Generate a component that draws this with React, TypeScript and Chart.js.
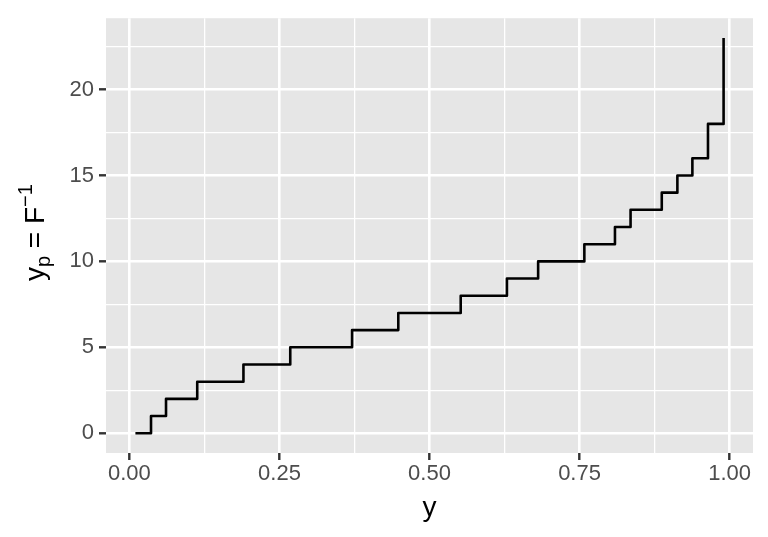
import React, { useEffect, useRef } from "react";
import { Chart, registerables } from "chart.js";

Chart.register(...registerables);

// Data (quantile step function)
const probValues = [0.01, 0.036, 0.061, 0.113, 0.19, 0.268, 0.371, 0.448, 0.552, 0.629, 0.681, 0.758, 0.809, 0.835, 0.887, 0.913, 0.938, 0.964, 0.99];
const quantileValues = [0, 1, 2, 3, 4, 5, 6, 7, 8, 9, 10, 11, 12, 13, 14, 15, 16, 18, 23];

const xMajorTicks = [0, 0.25, 0.5, 0.75, 1.0];
const xMinorTicks = [0.125, 0.375, 0.625, 0.875];
const yMajorTicks = [0, 5, 10, 15, 20];
const yMinorTicks = [2.5, 7.5, 12.5, 17.5, 22.5];

const xTitle = "y";
const FONT = "'Liberation Sans', Arial, Helvetica, sans-serif";

const isMajor = (v: number, majors: number[]) => majors.some((m) => Math.abs(m - v) < 1e-9);

const panelPlugin = {
  id: "panelBg",
  beforeDraw(chart: any) {
    const { ctx, chartArea } = chart;
    ctx.save();
    ctx.fillStyle = "#E6E6E6";
    ctx.fillRect(chartArea.left, chartArea.top, chartArea.right - chartArea.left, chartArea.bottom - chartArea.top);
    ctx.restore();
  },
  afterDraw(chart: any) {
    const { ctx, chartArea } = chart;
    ctx.save();
    ctx.fillStyle = "#000000";
    // x axis title
    ctx.font = `28px ${FONT}`;
    ctx.textAlign = "center";
    ctx.textBaseline = "alphabetic";
    ctx.fillText(xTitle, (chartArea.left + chartArea.right) / 2, 516);

    // y axis title: y_p = F^{-1}
    const main = `28px ${FONT}`;
    const small = `20px ${FONT}`;
    const pieces: { t: string; f: string; dy: number }[] = [
      { t: "y", f: main, dy: 0 },
      { t: "p", f: small, dy: 6 },
      { t: " = ", f: main, dy: 0 },
      { t: "F", f: main, dy: 0 },
      { t: "\u22121", f: small, dy: -12 },
    ];
    let total = 0;
    const widths = pieces.map((p) => {
      ctx.font = p.f;
      const w = ctx.measureText(p.t).width;
      total += w;
      return w;
    });
    const cy = (chartArea.top + chartArea.bottom) / 2 - 3;
    ctx.translate(43.5, cy);
    ctx.rotate(-Math.PI / 2);
    ctx.textAlign = "left";
    let x = -total / 2;
    pieces.forEach((p, i) => {
      ctx.font = p.f;
      ctx.fillText(p.t, x, p.dy);
      x += widths[i];
    });
    ctx.restore();
  },
};

export default function App() {
  const canvasRef = useRef<HTMLCanvasElement | null>(null);

  useEffect(() => {
    if (!canvasRef.current) return;
    const points = probValues.map((p, i) => ({ x: p, y: quantileValues[i] }));
    const chart = new Chart(canvasRef.current, {
      type: "line",
      data: {
        datasets: [
          {
            data: points,
            stepped: "before",
            borderColor: "#000000",
            borderWidth: 2.6,
            pointRadius: 0,
            fill: false,
            borderJoinStyle: "round",
            tension: 0,
          },
        ],
      },
      options: {
        animation: false,
        responsive: false,
        events: [],
        layout: { padding: { top: 14, right: 15, left: 0, bottom: 0 } },
        plugins: {
          legend: { display: false },
          tooltip: { enabled: false },
        },
        scales: {
          x: {
            type: "linear",
            min: -0.039,
            max: 1.039,
            border: { display: false },
            afterBuildTicks: (scale: any) => {
              scale.ticks = [...xMajorTicks, ...xMinorTicks].sort((a, b) => a - b).map((v) => ({ value: v }));
            },
            afterFit: (scale: any) => {
              scale.height = 84;
            },
            grid: {
              color: "#FFFFFF",
              lineWidth: (c: any) => (c.tick && isMajor(c.tick.value, xMajorTicks) ? 2.6 : 1.3),
              drawTicks: true,
              tickLength: 7,
              tickWidth: 2.4,
              tickColor: (c: any) => (c.tick && isMajor(c.tick.value, xMajorTicks) ? "#333333" : "rgba(0,0,0,0)"),
            },
            ticks: {
              autoSkip: false,
              maxRotation: 0,
              padding: 1,
              color: "#4D4D4D",
              font: { family: FONT, size: 22 },
              callback: (v: any) => (isMajor(Number(v), xMajorTicks) ? Number(v).toFixed(2) : ""),
            },
          },
          y: {
            type: "linear",
            min: -1.15,
            max: 24.15,
            border: { display: false },
            afterBuildTicks: (scale: any) => {
              scale.ticks = [...yMajorTicks, ...yMinorTicks].sort((a, b) => a - b).map((v) => ({ value: v }));
            },
            afterFit: (scale: any) => {
              scale.width = 106;
            },
            grid: {
              color: "#FFFFFF",
              lineWidth: (c: any) => (c.tick && isMajor(c.tick.value, yMajorTicks) ? 2.6 : 1.3),
              drawTicks: true,
              tickLength: 7,
              tickWidth: 2.4,
              tickColor: (c: any) => (c.tick && isMajor(c.tick.value, yMajorTicks) ? "#333333" : "rgba(0,0,0,0)"),
            },
            ticks: {
              autoSkip: false,
              padding: 5,
              color: "#4D4D4D",
              font: { family: FONT, size: 22 },
              callback: (v: any) => (isMajor(Number(v), yMajorTicks) ? String(Number(v)) : ""),
            },
          },
        },
      },
      plugins: [panelPlugin],
    } as any);
    return () => chart.destroy();
  }, []);

  return (
    <div style={{ position: "absolute", left: 0, top: 0, width: 768, height: 537, background: "#FFFFFF" }}>
      <canvas ref={canvasRef} width={768} height={537} style={{ width: 768, height: 537, display: "block" }} />
    </div>
  );
}
